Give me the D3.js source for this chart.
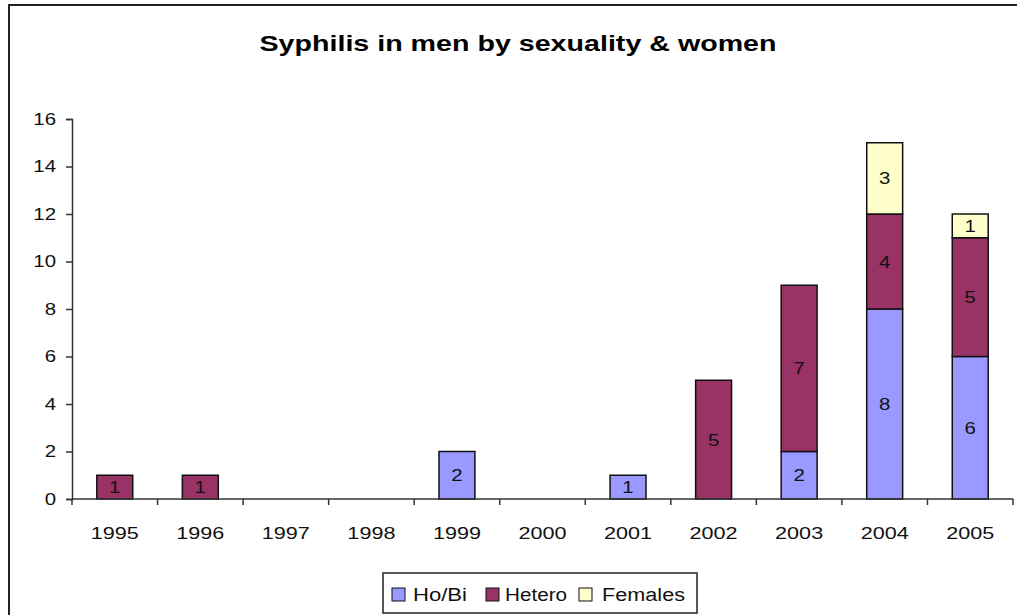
<!DOCTYPE html>
<html>
<head>
<meta charset="utf-8">
<script src="https://cdn.jsdelivr.net/npm/d3@7"></script>
<style>
  body { margin: 0; background: #fff; }
  svg { display: block; font-family: "Liberation Sans", Arial, sans-serif; }
</style>
</head>
<body>
<div id="chart"></div>
<script>
// data
const years = ['1995', '1996', '1997', '1998', '1999', '2000', '2001', '2002', '2003', '2004', '2005'];
const hoBi = [0, 0, 0, 0, 2, 0, 1, 0, 2, 8, 6];
const hetero = [1, 1, 0, 0, 0, 0, 0, 5, 7, 4, 5];
const females = [0, 0, 0, 0, 0, 0, 0, 0, 0, 3, 1];
const seriesNames = ['Ho/Bi', 'Hetero', 'Females'];
const yTicks = [0, 2, 4, 6, 8, 10, 12, 14, 16];

const colors = ['#9999ff', '#993366', '#ffffcc'];

const width = 1017, height = 615;
const svg = d3.select('#chart').append('svg')
    .attr('width', width)
    .attr('height', height);

// the old excel text is wide, so stretch glyphs sideways
function stretch(sel, k) {
  sel.each(function() {
    const w = this.getComputedTextLength();
    d3.select(this).attr('textLength', w * k).attr('lengthAdjust', 'spacingAndGlyphs');
  });
}

// outer frame (runs off the right and bottom edges)
svg.append('rect')
    .attr('x', 9).attr('y', 5)
    .attr('width', 1020).attr('height', 620)
    .attr('fill', '#fff')
    .attr('stroke', '#222')
    .attr('stroke-width', 2);

svg.append('text')
    .attr('x', 518).attr('y', 51)
    .attr('text-anchor', 'middle')
    .attr('font-size', 22)
    .attr('font-weight', 'bold')
    .attr('textLength', 517)
    .attr('lengthAdjust', 'spacingAndGlyphs')
    .text('Syphilis in men by sexuality & women');

const x = d3.scaleBand().domain(years).range([72, 1013]).paddingInner(0.58).paddingOuter(0.29);
const y = d3.scaleLinear().domain([0, 16]).range([499, 119]);

const rows = years.map((yr, i) => ({ year: yr, 'Ho/Bi': hoBi[i], 'Hetero': hetero[i], 'Females': females[i] }));
const stacked = d3.stack().keys(seriesNames)(rows);

const layers = svg.append('g').selectAll('g')
    .data(stacked)
    .enter().append('g')
    .attr('fill', (d, i) => colors[i]);

layers.selectAll('rect')
    .data(d => d.filter(p => p[1] > p[0]))
    .enter().append('rect')
    .attr('x', d => x(d.data.year))
    .attr('y', d => y(d[1]))
    .attr('width', x.bandwidth())
    .attr('height', d => y(d[0]) - y(d[1]))
    .attr('stroke', '#111')
    .attr('stroke-width', 1.5);

const segLabels = layers.selectAll('text')
    .data(d => d.filter(p => p[1] > p[0]))
    .enter().append('text')
    .attr('x', d => x(d.data.year) + x.bandwidth() / 2)
    .attr('y', d => (y(d[0]) + y(d[1])) / 2 + 6)
    .attr('text-anchor', 'middle')
    .attr('font-size', 17)
    .attr('fill', '#111')
    .text(d => d[1] - d[0]);
stretch(segLabels, 1.2);

// y axis
const yAxis = svg.append('g')
    .attr('transform', 'translate(72,0)')
    .call(d3.axisLeft(y).tickValues(yTicks).tickSize(6).tickPadding(10));
yAxis.selectAll('text').attr('font-size', 17).attr('fill', '#111').attr('font-family', 'Liberation Sans, Arial, sans-serif');
yAxis.selectAll('line, path').attr('stroke', '#333').attr('stroke-width', 1.5);
stretch(yAxis.selectAll('text'), 1.2);

// x axis with ticks between categories
const xAxis = svg.append('g').attr('transform', 'translate(0,499)');
xAxis.append('line')
    .attr('x1', 72).attr('x2', 1013)
    .attr('stroke', '#333').attr('stroke-width', 1.5);
const step = x.step();
xAxis.selectAll('.tk')
    .data(d3.range(years.length + 1))
    .enter().append('line')
    .attr('x1', i => 72 + i * step).attr('x2', i => 72 + i * step)
    .attr('y1', 0).attr('y2', 6)
    .attr('stroke', '#333').attr('stroke-width', 1.5);
const xLabels = xAxis.selectAll('text')
    .data(years)
    .enter().append('text')
    .attr('x', d => x(d) + x.bandwidth() / 2)
    .attr('y', 40)
    .attr('text-anchor', 'middle')
    .attr('font-size', 17)
    .attr('fill', '#111')
    .text(d => d);
stretch(xLabels, 1.27);

// legend
const legend = svg.append('g');
legend.append('rect')
    .attr('x', 383).attr('y', 573)
    .attr('width', 314).attr('height', 40)
    .attr('fill', '#fff')
    .attr('stroke', '#222')
    .attr('stroke-width', 1.5);
const legX = [392, 486, 579];
const legTextX = [413, 505, 602];
const legW = [54, 62, 83];
seriesNames.forEach((name, i) => {
  legend.append('rect')
      .attr('x', legX[i]).attr('y', 588)
      .attr('width', 13).attr('height', 13)
      .attr('fill', colors[i])
      .attr('stroke', '#111');
  legend.append('text')
      .attr('x', legTextX[i]).attr('y', 601)
      .attr('font-size', 18)
      .attr('fill', '#111')
      .attr('textLength', legW[i])
      .attr('lengthAdjust', 'spacingAndGlyphs')
      .text(name);
});
</script>
</body>
</html>
